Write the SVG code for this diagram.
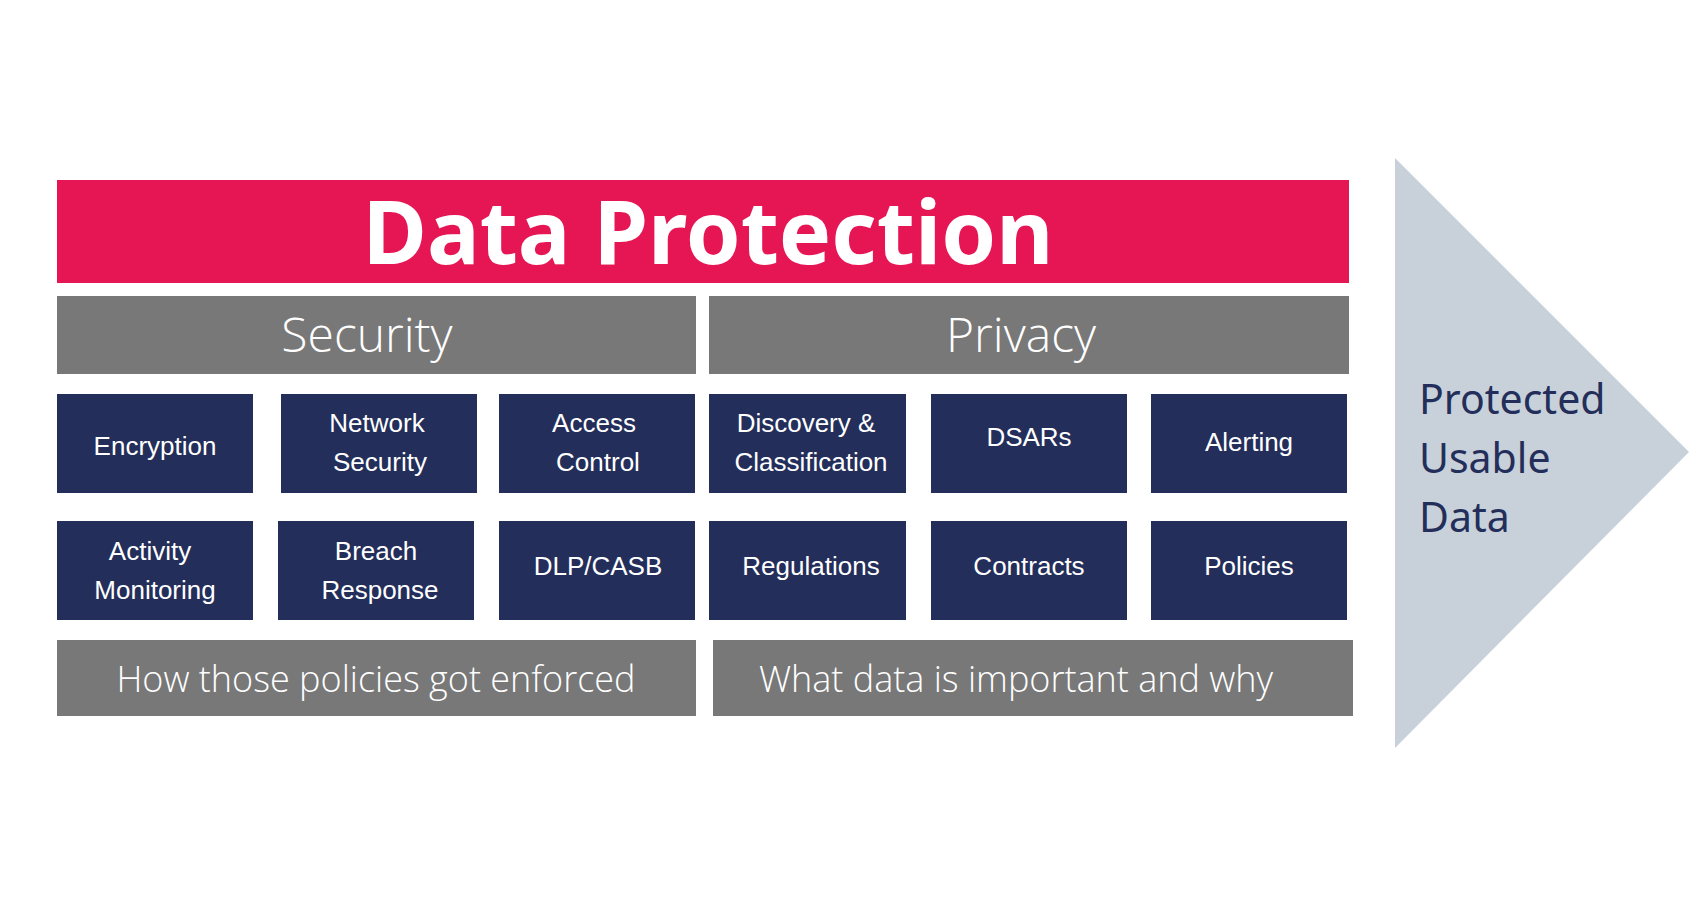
<svg xmlns="http://www.w3.org/2000/svg" width="1700" height="900" viewBox="0 0 1700 900">
<style>
.n{fill:#232e5a}
.g{fill:#787878}
.nt{font-family:"Liberation Sans",Arial,sans-serif;font-size:26px;fill:#fff;text-anchor:middle}
.gt{font-family:"Open Sans","Noto Sans",sans-serif;font-weight:300;fill:#fff;text-anchor:middle}
</style>
<rect width="1700" height="900" fill="#fff"/>
<g id="arrow"><polygon points="1395,158 1689,452 1395,748" fill="#c8d1d9"/>
<text font-family="'Noto Sans','Open Sans',sans-serif" font-size="41" fill="#232e5a"><tspan x="1419" y="414">Protected</tspan><tspan x="1419" y="473">Usable</tspan><tspan x="1419" y="532">Data</tspan></text></g>
<g id="title"><rect x="57" y="180" width="1292" height="103" fill="#e61655"/>
<text x="708" y="264" font-family="'Noto Sans','Open Sans',sans-serif" font-weight="bold" font-size="88" fill="#fff" text-anchor="middle">Data Protection</text></g>
<g id="security"><rect class="g" x="57" y="296" width="639" height="78"/><text class="gt" x="367" y="352" font-size="48">Security</text></g>
<g id="privacy"><rect class="g" x="709" y="296" width="640" height="78"/><text class="gt" x="1021" y="352" font-size="48">Privacy</text></g>
<g id="encryption"><rect class="n" x="57" y="394" width="196" height="99"/><text class="nt" x="155" y="455">Encryption</text></g>
<g id="network"><rect class="n" x="281" y="394" width="196" height="99"/><text class="nt" x="379"><tspan x="377" y="432">Network</tspan><tspan x="380" y="471">Security</tspan></text></g>
<g id="access"><rect class="n" x="499" y="394" width="196" height="99"/><text class="nt"><tspan x="594" y="432">Access</tspan><tspan x="598" y="471">Control</tspan></text></g>
<g id="discovery"><rect class="n" x="709" y="394" width="197" height="99"/><text class="nt"><tspan x="806" y="432">Discovery &amp;</tspan><tspan x="811" y="471">Classification</tspan></text></g>
<g id="dsars"><rect class="n" x="931" y="394" width="196" height="99"/><text class="nt" x="1029" y="446">DSARs</text></g>
<g id="alerting"><rect class="n" x="1151" y="394" width="196" height="99"/><text class="nt" x="1249" y="451">Alerting</text></g>
<g id="activity"><rect class="n" x="57" y="521" width="196" height="99"/><text class="nt"><tspan x="150" y="560">Activity</tspan><tspan x="155" y="599">Monitoring</tspan></text></g>
<g id="breach"><rect class="n" x="278" y="521" width="196" height="99"/><text class="nt"><tspan x="376" y="560">Breach</tspan><tspan x="380" y="599">Response</tspan></text></g>
<g id="dlp"><rect class="n" x="499" y="521" width="196" height="99"/><text class="nt" x="598" y="575">DLP/CASB</text></g>
<g id="regulations"><rect class="n" x="709" y="521" width="197" height="99"/><text class="nt" x="811" y="575">Regulations</text></g>
<g id="contracts"><rect class="n" x="931" y="521" width="196" height="99"/><text class="nt" x="1029" y="575">Contracts</text></g>
<g id="policies"><rect class="n" x="1151" y="521" width="196" height="99"/><text class="nt" x="1249" y="575">Policies</text></g>
<g id="how"><rect class="g" x="57" y="640" width="639" height="76"/><text class="gt" x="376" y="692" font-size="36">How those policies got enforced</text></g>
<g id="what"><rect class="g" x="713" y="640" width="640" height="76"/><text class="gt" x="1016" y="692" font-size="36">What data is important and why</text></g>
<g id="connectors"/>
</svg>
